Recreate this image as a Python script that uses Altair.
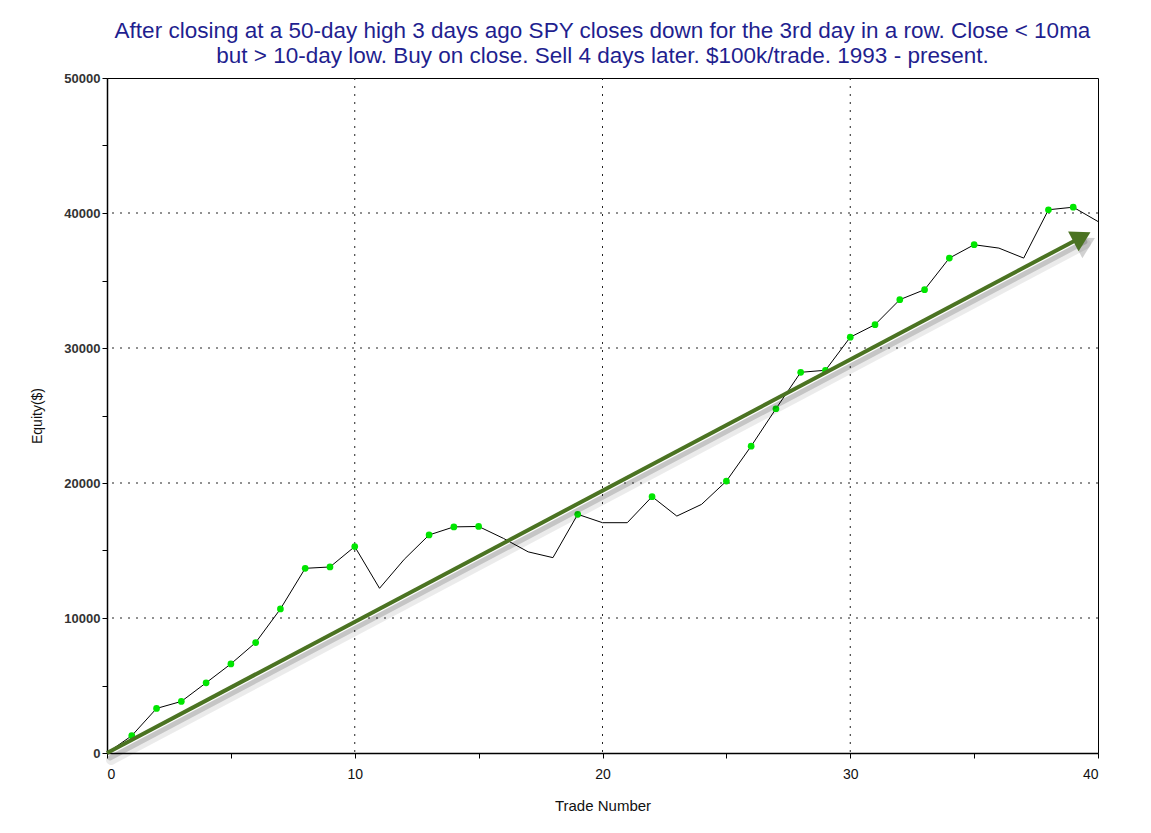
import math
import altair as alt
import pandas as pd

# ---- data ----
trades = list(range(41))
equity = [0, 1280, 3300, 3820, 5200, 6600, 8180, 10670, 13680, 13780,
          15290, 12200, 14350, 16150, 16750, 16780, 15900, 14900, 14470, 17680,
          17060, 17060, 18990, 17550, 18420, 20140, 22730, 25500, 28200, 28350,
          30800, 31730, 33580, 34320, 36660, 37650, 37400, 36660, 40240, 40430,
          39370]
arrow_x = [0, 39.35]
arrow_y = [0, 38230]
x_grid = [10, 20, 30]
y_grid = [10000, 20000, 30000, 40000]
x_ticks = [0, 5, 10, 15, 20, 25, 30, 35, 40]
y_ticks = [0, 5000, 10000, 15000, 20000, 25000, 30000, 35000, 40000, 45000, 50000]
title_lines = [
    "After closing at a 50-day high 3 days ago SPY closes down for the 3rd day in a row. Close < 10ma",
    "but > 10-day low. Buy on close. Sell 4 days later. $100k/trade. 1993 - present.",
]

W, H = 991, 675
XMAX, YMAX = 40, 50000

df = pd.DataFrame({"trade": trades, "equity": equity})
prev_max = df["equity"].cummax().shift(1).fillna(0)
df["high"] = (df["equity"] > prev_max) & (df["trade"] > 0)
dots = df[df["high"]]

arrow = pd.DataFrame({"x": arrow_x, "y": arrow_y})
head = arrow.iloc[[1]]
# arrow head rotation from the scales' pixel ratios
dx_px = (arrow_x[1] - arrow_x[0]) * W / XMAX
dy_px = (arrow_y[1] - arrow_y[0]) * H / YMAX
head_angle = 360 - math.degrees(math.atan2(dy_px, dx_px))

xs = alt.Scale(domain=[0, XMAX], nice=False, zero=False)
ys = alt.Scale(domain=[0, YMAX], nice=False)

FONT = "Liberation Sans"

x_axis = alt.Axis(values=x_ticks, grid=False, tickSize=5, tickColor="black",
                  domainColor="black", domainWidth=1.5, labelFont=FONT,
                  labelFontSize=14, labelColor="#111", labelPadding=9,
                  labelExpr="datum.value % 10 == 0 ? datum.label : ''",
                  title="Trade Number", titleFont=FONT, titleFontSize=15,
                  titleFontWeight="normal", titleColor="#111",
                  titleY=57, titleBaseline="alphabetic")
y_axis = alt.Axis(values=y_ticks, grid=False, tickSize=5, tickColor="black",
                  domainColor="black", domainWidth=1.5, labelFont=FONT,
                  labelFontSize=13, labelFontWeight="bold", labelColor="#333",
                  labelPadding=2, format="d",
                  labelExpr="datum.value % 10000 == 0 ? datum.label : ''",
                  title="Equity($)", titleFont=FONT, titleFontSize=14,
                  titleFontWeight="normal", titleColor="#111",
                  titleX=-70, titleY=H / 2, titleBaseline="middle", titleAngle=-90)

base_grid_x = alt.Chart(pd.DataFrame({"g": x_grid})).mark_rule(
    color="#222", strokeDash=[2, 6], strokeWidth=1
).encode(x=alt.X("g:Q", scale=xs))
base_grid_y = alt.Chart(pd.DataFrame({"g": y_grid})).mark_rule(
    color="#222", strokeDash=[2, 6], strokeWidth=1
).encode(y=alt.Y("g:Q", scale=ys))

line = alt.Chart(df).mark_line(color="black", strokeWidth=1).encode(
    x=alt.X("trade:Q", scale=xs, axis=x_axis),
    y=alt.Y("equity:Q", scale=ys, axis=y_axis),
)
pts = alt.Chart(dots).mark_circle(color="#00e600", opacity=1, size=45).encode(
    x=alt.X("trade:Q", scale=xs), y=alt.Y("equity:Q", scale=ys)
)

shadow1 = alt.Chart(arrow).mark_line(color="#000", strokeWidth=10, opacity=0.08,
                                     xOffset=4, yOffset=7, strokeCap="round").encode(
    x=alt.X("x:Q", scale=xs), y=alt.Y("y:Q", scale=ys))
shadow2 = alt.Chart(arrow).mark_line(color="#000", strokeWidth=5, opacity=0.16,
                                     xOffset=3, yOffset=5, strokeCap="round").encode(
    x=alt.X("x:Q", scale=xs), y=alt.Y("y:Q", scale=ys))
head_shadow = alt.Chart(head).mark_point(shape="triangle-right", filled=True,
                                         color="#000", opacity=0.18, size=560,
                                         angle=head_angle, xOffset=4, yOffset=6).encode(
    x=alt.X("x:Q", scale=xs), y=alt.Y("y:Q", scale=ys))
shaft = alt.Chart(arrow).mark_line(color="#4b7322", strokeWidth=4).encode(
    x=alt.X("x:Q", scale=xs), y=alt.Y("y:Q", scale=ys))
head_mark = alt.Chart(head).mark_point(shape="triangle-right", filled=True,
                                       color="#4b7322", opacity=1, size=500,
                                       angle=head_angle).encode(
    x=alt.X("x:Q", scale=xs), y=alt.Y("y:Q", scale=ys))

chart = alt.layer(
    base_grid_x, base_grid_y, line, pts, shadow1, shadow2, head_shadow, shaft, head_mark
).properties(
    width=W, height=H,
    title=alt.TitleParams(text=title_lines, font=FONT, fontSize=22.5,
                          fontWeight="normal", color="#1f1f8f", anchor="middle",
                          lineHeight=25, offset=5),
    autosize=alt.AutoSizeParams(type="none"),
    padding={"left": 99, "top": 70, "right": 45, "bottom": 70},
    background="white",
).configure_view(stroke="black", strokeWidth=1)

chart.save("out.html", embed_options={"renderer": "svg", "actions": False})
